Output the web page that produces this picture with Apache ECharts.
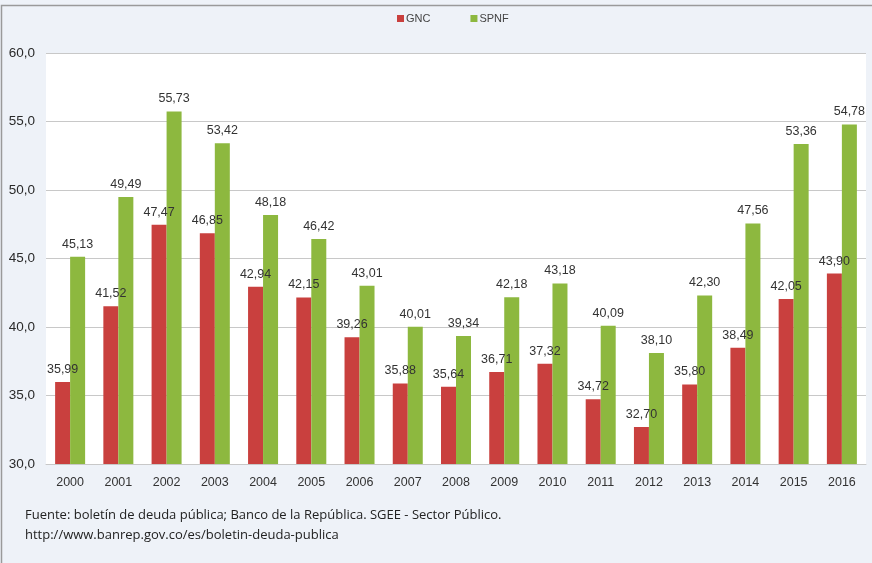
<!DOCTYPE html>
<html><head><meta charset="utf-8">
<script src="https://cdn.jsdelivr.net/npm/echarts@6/dist/echarts.min.js"></script>
<style>html,body{margin:0;padding:0;background:#fff}#c{width:872px;height:563px}</style>
</head><body><div id="c"></div>
<script>
const years = ['2000','2001','2002','2003','2004','2005','2006','2007','2008','2009','2010','2011','2012','2013','2014','2015','2016'];
const gnc = [35.99,41.52,47.47,46.85,42.94,42.15,39.26,35.88,35.64,36.71,37.32,34.72,32.70,35.80,38.49,42.05,43.90];
const spnf = [45.13,49.49,55.73,53.42,48.18,46.42,43.01,40.01,39.34,42.18,43.18,40.09,38.10,42.30,47.56,53.36,54.78];
const yTicks = {min:30, max:60, interval:5};
const footer1 = 'Fuente: boletín de deuda pública; Banco de la República. SGEE - Sector Público.';
const footer2 = 'http://www.banrep.gov.co/es/boletin-deuda-publica';

const fmt = v => v.toFixed(2).replace('.', ',');
const chart = echarts.init(document.getElementById('c'));
const lbl = {show:true, position:'top', distance:6, color:'#333', fontSize:12.5, fontFamily:'Liberation Sans, Arial', formatter:p=>fmt(p.value)};
chart.setOption({
  backgroundColor:'#eef2f8',
  animation:false,
  graphic:[
    {type:'rect', shape:{x:1.5,y:5.5,width:880,height:570}, style:{fill:'none', stroke:'#9a9a9a', lineWidth:1.5}, z:-1},
    {type:'text', left:25, top:509, style:{text:footer1, font:'13px "Open Sans", sans-serif', fill:'#222'}},
    {type:'text', left:25, top:529, style:{text:footer2, font:'13px "Open Sans", sans-serif', fill:'#222'}}
  ],
  legend:{top:8, left:392, itemWidth:7, itemHeight:7, itemGap:40, icon:'rect',
    textStyle:{fontSize:11, color:'#444', fontFamily:'Liberation Sans, Arial', padding:[0,0,0,-3]},
    data:['GNC','SPNF']},
  grid:{left:46, right:6, top:53, bottom:99, show:true, backgroundColor:'#fff', borderWidth:0},
  xAxis:{type:'category', data:years,
    axisLine:{lineStyle:{color:'#c8c8c8'}}, axisTick:{show:false},
    axisLabel:{color:'#333', fontSize:12.5, margin:12, fontFamily:'Liberation Sans, Arial'}},
  yAxis:{type:'value', min:yTicks.min, max:yTicks.max, interval:yTicks.interval,
    axisLine:{show:false}, axisTick:{show:false},
    splitLine:{lineStyle:{color:'#c8c8c8'}},
    axisLabel:{color:'#2a2a2a', fontSize:13.5, margin:11, fontFamily:'Liberation Sans, Arial', formatter:v=>v.toFixed(1).replace('.',',')}},
  series:[
    {name:'GNC', type:'bar', data:gnc, barWidth:15, barGap:'0%', itemStyle:{color:'#c9403e'}, label:lbl},
    {name:'SPNF', type:'bar', data:spnf, barWidth:15, itemStyle:{color:'#8db83f'}, label:lbl}
  ]
});
</script></body></html>
